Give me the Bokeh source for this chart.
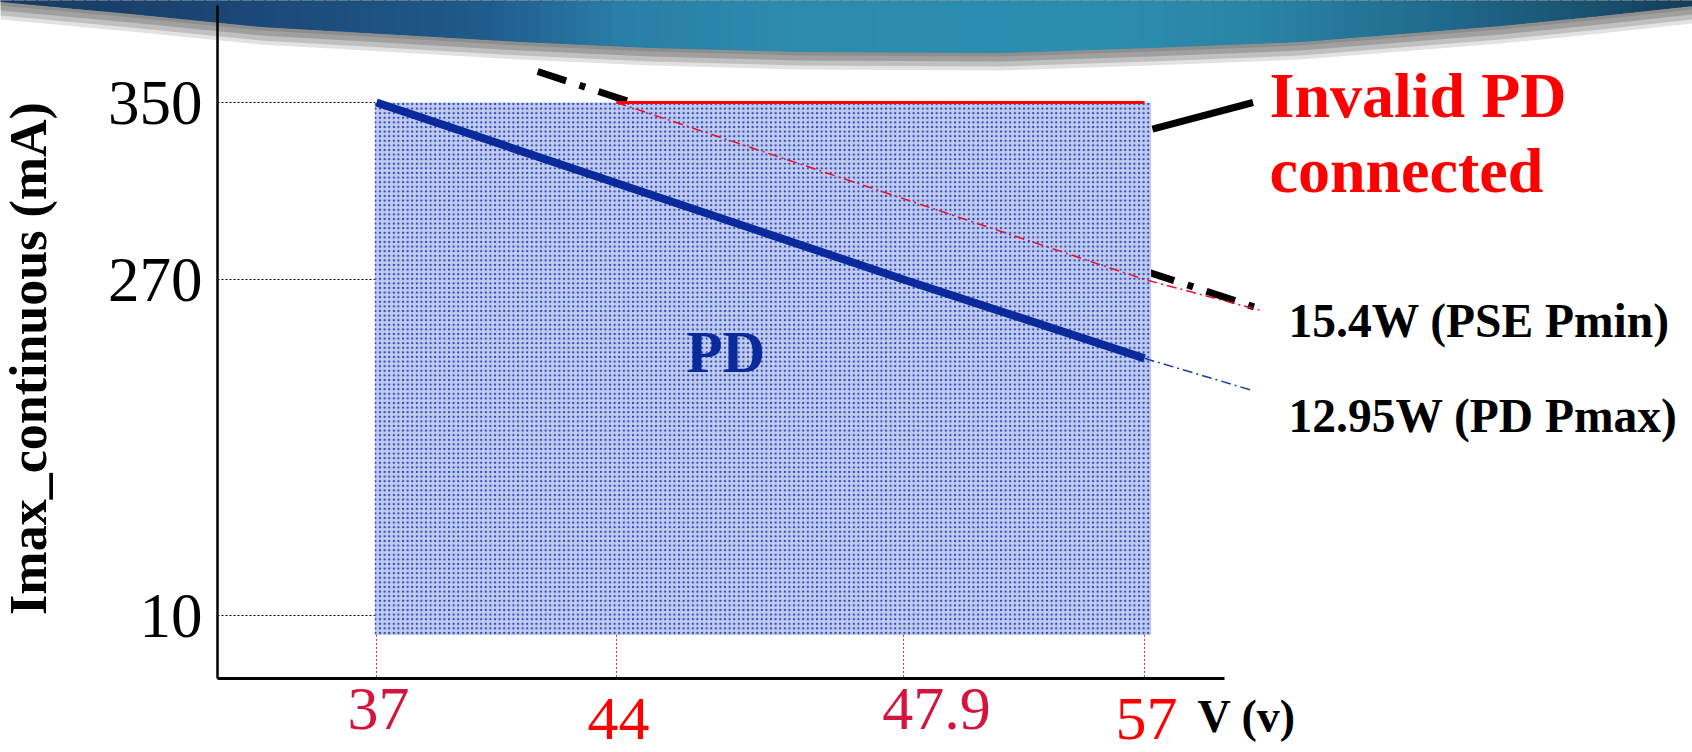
import numpy as np
from bokeh.plotting import figure
from bokeh.models import Range1d, LinearAxis, FixedTicker, ColumnDataSource
from bokeh.core.properties import value
from bokeh.embed import file_html
from bokeh.resources import INLINE

# ---------------- data ----------------
v_ticks = [37, 44, 47.9, 57]
v_tick_labels = ["37", "44", "47.9", "57"]
i_ticks = [10, 270, 350]
i_tick_labels = ["10", "270", "350"]

pd_region_v = [36.95, 57.25]          # PD operating region
pd_region_i = [-5, 350]

pd_pmax_v = [37, 47.9, 57]            # 12.95W (PD Pmax) solid
pd_pmax_i = [350, 270, 209]
pd_pmax_ext_v = [57, 61.1]            # 12.95W continuation (dash-dot)
pd_pmax_ext_i = [209, 184]

pse_pmin_v = [44, 57, 61.4]           # 15.4W (PSE Pmin) dash-dot
pse_pmin_i = [350, 270, 246]

invalid_limit_v = [44, 57]            # top boundary (red solid)
invalid_limit_i = [350, 350]

invalid_edge_v = [41.7, 61.4]         # thick black dash-dot boundary
invalid_edge_i = [364, 247]

pointer_v = [57.3, 61.1]              # callout to "Invalid PD connected"
pointer_i = [338, 350]

# ---------------- layout (schematic, non-linear axes) ----------------
W, H = 1692, 752
X_TICK_POS = [376, 616, 903, 1144]    # where the V ticks sit on the drawing
Y_TICK_POS = [615, 279, 102]          # where the mA ticks sit on the drawing
Y_AXIS_AT = 217
X_AXIS_AT = 678


def piecewise(vals, src, dst):
    vals = np.atleast_1d(np.asarray(vals, dtype=float))
    src = np.asarray(src, float)
    dst = np.asarray(dst, float)
    idx = np.clip(np.searchsorted(src, vals) - 1, 0, len(src) - 2)
    s0, s1 = src[idx], src[idx + 1]
    d0, d1 = dst[idx], dst[idx + 1]
    return d0 + (vals - s0) * (d1 - d0) / (s1 - s0)


def sx(v):
    return piecewise(v, v_ticks, X_TICK_POS)


def sy(i):
    return piecewise(i, i_ticks, Y_TICK_POS)


def base(b, size):
    # place the text so that its baseline lands near b
    return b - 0.33 * size


p = figure(width=W, height=H, x_range=Range1d(0, W), y_range=Range1d(H, 0),
           x_axis_type=None, y_axis_type=None, toolbar_location=None,
           output_backend="svg", min_border=0)
p.outline_line_color = None
p.grid.visible = False
p.background_fill_color = "white"
p.border_fill_color = "white"

SERIF = value("Liberation Serif")

# ---------------- banner ----------------
curve_x = np.array([0, 130, 260, 400, 520, 650, 800, 1000, 1150, 1300, 1400, 1500, 1600, 1692])
curve_y = np.array([1, 13, 26, 34, 41, 47, 51, 52, 47, 41, 33, 25, 15, 5])
stop_x = np.array([0, 250, 480, 620, 800, 1100, 1250, 1450, 1600, 1692])
stop_c = ["#183a62", "#1b4876", "#1f5a8a", "#2a7ea5", "#2c8cae", "#2b8eaf",
          "#2a85a6", "#1f688b", "#194f6d", "#133c58"]
stop_rgb = np.array([[int(c[i:i + 2], 16) for i in (1, 3, 5)] for c in stop_c], float)

for off, col in [(18, "#e2e2e2"), (14, "#c0c0c0"), (9, "#a0a0a0"), (4, "#8e8e8e")]:
    xs = list(curve_x) + [curve_x[-1], curve_x[0]]
    ys = list(curve_y + off) + [-20, -20]
    p.patch(xs, ys, fill_color=col, line_color=None)

strip_xs, strip_ys, strip_cols = [], [], []
edges = np.arange(curve_x[0], curve_x[-1] + 12, 12)
for a, b in zip(edges[:-1], edges[1:]):
    ya, yb = np.interp([a, b], curve_x, curve_y)
    m = (a + b) / 2
    rgb = [np.interp(m, stop_x, stop_rgb[:, k]) for k in range(3)]
    col = "#%02x%02x%02x" % tuple(int(round(c)) for c in rgb)
    strip_xs.append([a, b + 1, b + 1, a])
    strip_ys.append([-20, -20, yb, ya])
    strip_cols.append(col)
p.patches(strip_xs, strip_ys, fill_color=strip_cols, line_color=strip_cols, line_width=1)

# ---------------- chart ----------------
# thick black dash-dot boundary (partly hidden behind PD region)
p.line(sx(invalid_edge_v), sy(invalid_edge_i), line_color="black", line_width=7,
       line_dash="30 14 6 14")

# PD region with dot pattern
p.quad(left=sx(pd_region_v[0])[0], right=sx(pd_region_v[1])[0],
       top=sy(pd_region_i[1])[0], bottom=sy(pd_region_i[0])[0],
       fill_color="#c2ccf0", line_color=None,
       hatch_pattern="dot", hatch_color="#2a48c0", hatch_scale=4.6, hatch_weight=3.6)

# dotted guides
yt = sy(i_ticks)
p.segment(x0=[Y_AXIS_AT] * len(yt), y0=yt, x1=[sx(pd_region_v[0])[0]] * len(yt), y1=yt,
          line_color="black", line_width=1, line_dash="2 2")
xt = sx(v_ticks)
p.segment(x0=xt, y0=[sy(pd_region_i[0])[0]] * len(xt), x1=xt, y1=[X_AXIS_AT] * len(xt),
          line_color="#ff2020", line_width=1, line_dash="2 2")

# 15.4W line (red dash-dot) and invalid boundary
p.line(sx(pse_pmin_v), sy(pse_pmin_i), line_color="#e8102a", line_width=1.5,
       line_dash="10 4 2 4")
p.line(sx(invalid_limit_v), sy(invalid_limit_i), line_color="#ff0000", line_width=3)

# 12.95W line
p.line(sx(pd_pmax_v), sy(pd_pmax_i), line_color="#0a2a9c", line_width=8)
p.line(sx(pd_pmax_ext_v), sy(pd_pmax_ext_i), line_color="#1a3aaa", line_width=1.5,
       line_dash="10 4 2 4")

# callout pointer
p.line(sx(pointer_v), sy(pointer_i), line_color="black", line_width=7)

# ---------------- axes ----------------
yaxis = LinearAxis(fixed_location=Y_AXIS_AT, bounds=(5, X_AXIS_AT),
                   ticker=FixedTicker(ticks=list(sy(i_ticks))),
                   major_label_overrides={float(t): l for t, l in zip(sy(i_ticks), i_tick_labels)})
yaxis.axis_line_width = 2.5
yaxis.axis_line_color = "black"
yaxis.major_tick_in = 0
yaxis.major_tick_out = 0
yaxis.minor_tick_in = 0
yaxis.minor_tick_out = 0
yaxis.major_label_text_font = "Liberation Serif"
yaxis.major_label_text_font_size = "63px"
yaxis.major_label_text_color = "black"
yaxis.major_label_standoff = 15
p.add_layout(yaxis, "left")

xaxis = LinearAxis(fixed_location=X_AXIS_AT, bounds=(Y_AXIS_AT, 1224),
                   ticker=FixedTicker(ticks=[]))
xaxis.axis_line_width = 3
xaxis.axis_line_color = "black"
xaxis.major_tick_in = 0
xaxis.major_tick_out = 0
xaxis.minor_tick_in = 0
xaxis.minor_tick_out = 0
xaxis.major_label_text_font_size = "0px"
p.add_layout(xaxis, "below")

# x tick labels (two colours, staggered)
lab_dx = [2, 2, 33, 2]
lab_base = [729, 739, 729, 739]
lab_col = ["#d4143c", "#ff0000", "#d4143c", "#ff0000"]
src = ColumnDataSource(dict(x=sx(v_ticks) + np.array(lab_dx),
                            y=[base(b, 62) for b in lab_base],
                            t=v_tick_labels, c=lab_col))
p.text(x="x", y="y", text="t", text_color="c", source=src, text_font=SERIF,
       text_font_size="62px", text_align="center", text_baseline="alphabetic")

# axis titles
p.text(x=[1197], y=[base(731, 46)], text=["V (v)"], text_font=SERIF, text_font_style="bold",
       text_font_size="46px", text_color="black", text_baseline="alphabetic")
p.text(x=[28], y=[358], text=["Imax_continuous (mA)"], angle=np.pi / 2,
       text_font=SERIF, text_font_style="bold", text_font_size="52px",
       text_color="black", text_align="center", text_baseline="middle")

# annotations
p.text(x=[686], y=[base(371, 59)], text=["PD"], text_font=SERIF, text_font_style="bold",
       text_font_size="59px", text_color="#0a2a9c", text_baseline="alphabetic")
p.text(x=[1269, 1269], y=[base(116, 64), base(191, 64)], text=["Invalid PD", "connected"],
       text_font=SERIF, text_font_style="bold", text_font_size="64px", text_color="#ff0000",
       text_baseline="alphabetic")
p.text(x=[1288, 1288], y=[base(336, 47.5), base(431, 47.5)],
       text=["15.4W (PSE Pmin)", "12.95W (PD Pmax)"],
       text_font=SERIF, text_font_style="bold", text_font_size="47.5px",
       text_color="black", text_baseline="alphabetic")

open("out.html", "w").write(file_html(p, INLINE))
